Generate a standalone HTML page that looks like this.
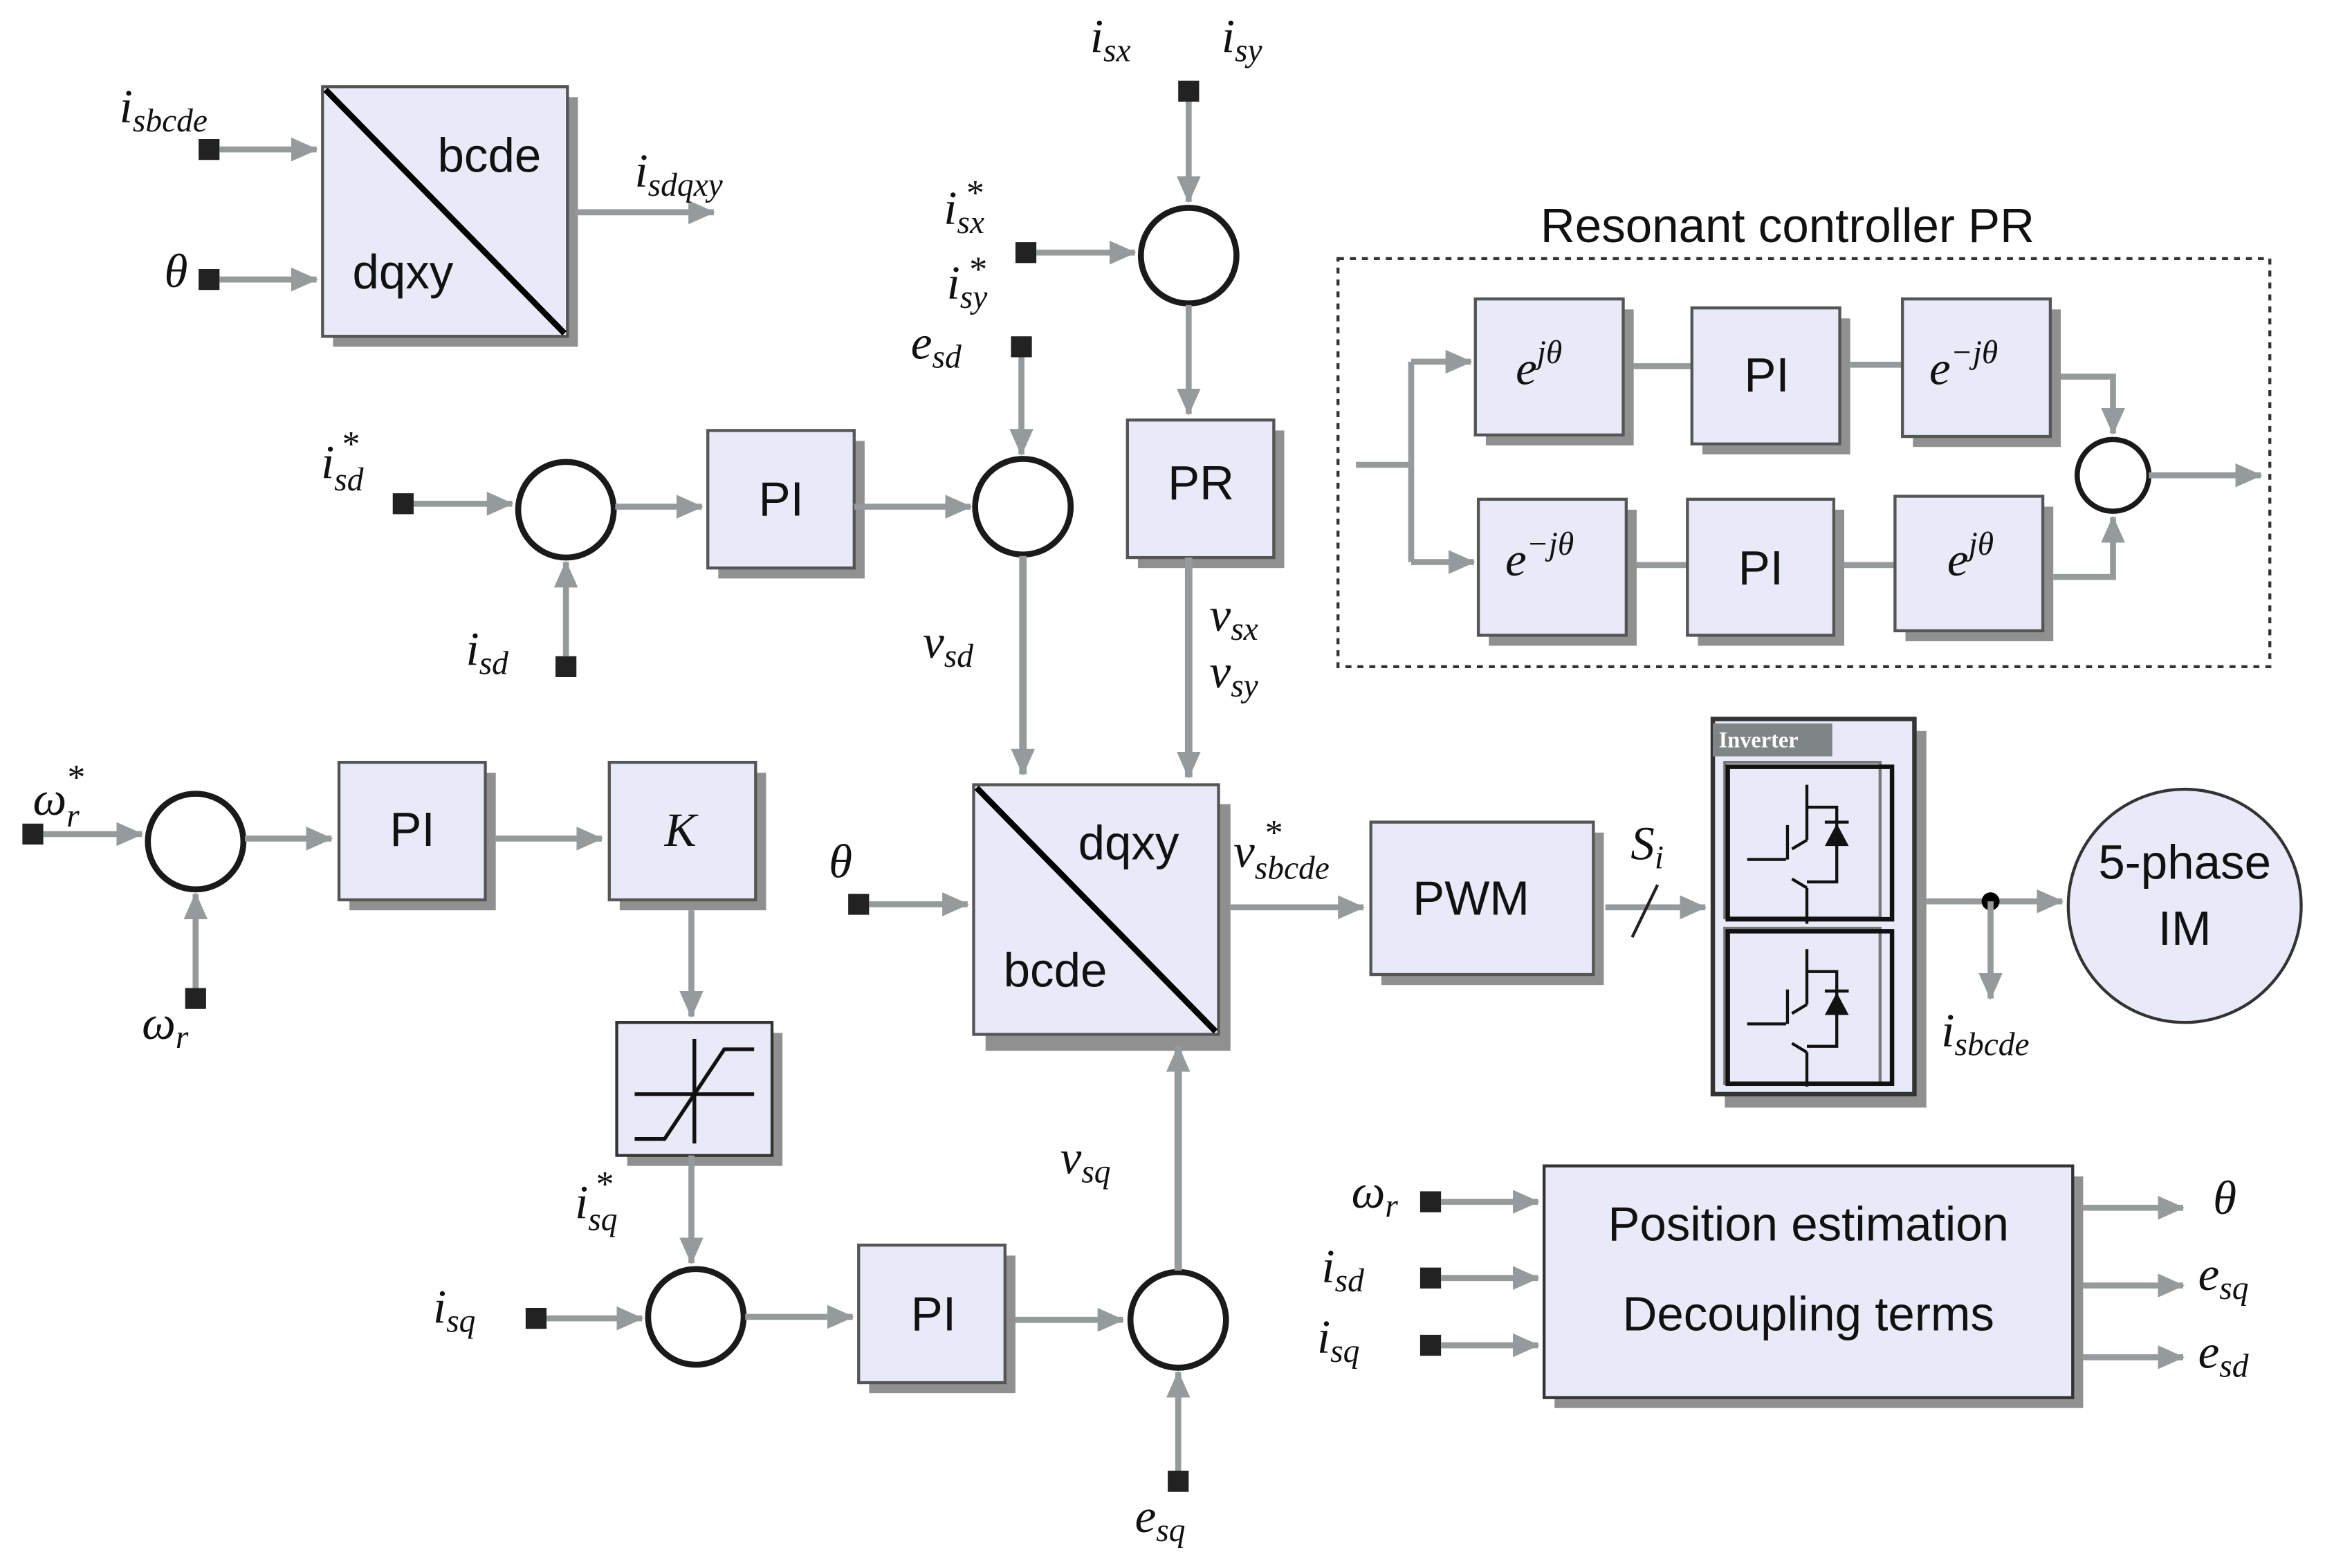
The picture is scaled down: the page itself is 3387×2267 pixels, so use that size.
<!DOCTYPE html>
<html><head><meta charset="utf-8"><style>
html,body{margin:0;padding:0;background:#fff}
svg{display:block}
.m{font-family:"Liberation Serif",serif;font-style:italic;font-size:32px;fill:#111}
.s{font-size:22px}
.t{font-family:"Liberation Sans",sans-serif;font-size:32px;fill:#111}
.ln{stroke:#959a9a;stroke-width:4;fill:none}
.bx{fill:#e8eaf8;stroke:#555;stroke-width:2}
.sh{fill:#909090}
.cir{fill:#fff;stroke:#1a1a1a;stroke-width:4}
</style></head><body>
<svg width="3387" height="2267" viewBox="0 0 1569 1049" preserveAspectRatio="none" xmlns="http://www.w3.org/2000/svg">
<defs>
<marker id="a" markerUnits="userSpaceOnUse" markerWidth="18" markerHeight="16" refX="17" refY="8" orient="auto"><path d="M0,0 L18,8 L0,16 Z" fill="#959a9a"/></marker>
</defs>
<g>
<rect class="sh" x="223" y="65" width="164" height="167"/>
<rect class="bx" x="216" y="58" width="164" height="167"/>
<line x1="218" y1="60" x2="378" y2="223" stroke="#000" stroke-width="4"/>
<text class="t" x="293" y="115">bcde</text><text class="t" x="236" y="193">dqxy</text>
<rect x="133" y="93" width="14" height="14" fill="#222"/><line class="ln" x1="147" y1="100" x2="212" y2="100" marker-end="url(#a)"/>
<rect x="133" y="180" width="14" height="14" fill="#222"/><line class="ln" x1="147" y1="187" x2="212" y2="187" marker-end="url(#a)"/>
<text class="m" x="80" y="82">i<tspan class="s" dy="6">sbcde</tspan></text>
<text class="m" x="110" y="192">θ</text>
<line class="ln" x1="385" y1="142" x2="478" y2="142" marker-end="url(#a)"/>
<text class="m" x="425" y="125">i<tspan class="s" dy="6">sdqxy</tspan></text>

<text class="m" x="215" y="320">i<tspan class="s" dy="8">sd</tspan></text><text class="m" x="228" y="305" style="font-size:24px">*</text>
<rect x="263" y="330" width="14" height="14" fill="#222"/>
<line class="ln" x1="277" y1="337" x2="343" y2="337" marker-end="url(#a)"/>
<circle class="cir" cx="379" cy="341" r="32"/>
<rect x="372" y="439" width="14" height="14" fill="#222"/>
<line class="ln" x1="379" y1="439" x2="379" y2="376" marker-end="url(#a)"/>
<text class="m" x="312" y="445">i<tspan class="s" dy="6">sd</tspan></text>
<line class="ln" x1="412" y1="339" x2="470" y2="339" marker-end="url(#a)"/>
<rect class="sh" x="481" y="295" width="98" height="92"/><rect class="bx" x="474" y="288" width="98" height="92"/>
<text class="t" x="508" y="345">PI</text>
<line class="ln" x1="572" y1="339" x2="650" y2="339" marker-end="url(#a)"/>
<circle class="cir" cx="685" cy="339" r="32"/>
<rect x="677" y="225" width="14" height="14" fill="#222"/>
<line class="ln" x1="684" y1="239" x2="684" y2="304" marker-end="url(#a)"/>
<text class="m" x="610" y="240">e<tspan class="s" dy="6">sd</tspan></text>
<line class="ln" x1="685" y1="372" x2="685" y2="518" marker-end="url(#a)" style="stroke-width:5"/>
<text class="m" x="618" y="440">v<tspan class="s" dy="6">sd</tspan></text>

<text class="m" x="730" y="35">i<tspan class="s" dy="6">sx</tspan></text>
<text class="m" x="818" y="35">i<tspan class="s" dy="6">sy</tspan></text>
<rect x="789" y="54" width="14" height="14" fill="#222"/>
<line class="ln" x1="796" y1="68" x2="796" y2="135" marker-end="url(#a)"/>
<circle class="cir" cx="796" cy="171" r="32"/>
<text class="m" x="632" y="150">i<tspan class="s" dy="6">sx</tspan></text><text class="m" x="646" y="137" style="font-size:24px">*</text>
<text class="m" x="634" y="200">i<tspan class="s" dy="6">sy</tspan></text><text class="m" x="648" y="188" style="font-size:24px">*</text>
<rect x="680" y="162" width="14" height="14" fill="#222"/>
<line class="ln" x1="694" y1="169" x2="760" y2="169" marker-end="url(#a)"/>
<line class="ln" x1="796" y1="204" x2="796" y2="277" marker-end="url(#a)"/>
<rect class="sh" x="762" y="288" width="98" height="92"/><rect class="bx" x="755" y="281" width="98" height="92"/>
<text class="t" x="782" y="334">PR</text>
<line class="ln" x1="796" y1="373" x2="796" y2="520" marker-end="url(#a)" style="stroke-width:5"/>
<text class="m" x="810" y="422">v<tspan class="s" dy="6">sx</tspan></text>
<text class="m" x="810" y="460">v<tspan class="s" dy="6">sy</tspan></text>

<rect class="sh" x="660" y="538" width="164" height="165"/>
<rect class="bx" x="652" y="525" width="164" height="167"/>
<line x1="654" y1="527" x2="814" y2="690" stroke="#000" stroke-width="4"/>
<text class="t" x="722" y="575">dqxy</text><text class="t" x="672" y="660">bcde</text>
<text class="m" x="555" y="587">θ</text>
<rect x="568" y="598" width="14" height="14" fill="#222"/>
<line class="ln" x1="582" y1="605" x2="648" y2="605" marker-end="url(#a)"/>
<line class="ln" x1="824" y1="607" x2="913" y2="607" marker-end="url(#a)"/>
<text class="m" x="826" y="580">v<tspan class="s" dy="8">sbcde</tspan></text><text class="m" x="846" y="565" style="font-size:24px">*</text>
<rect class="sh" x="925" y="557" width="149" height="102"/><rect class="bx" x="918" y="550" width="149" height="102"/>
<text class="t" x="946" y="612">PWM</text>
<line class="ln" x1="1075" y1="607" x2="1142" y2="607" marker-end="url(#a)"/>
<line x1="1093" y1="627" x2="1110" y2="592" stroke="#222" stroke-width="2"/>
<text class="m" x="1092" y="575">S<tspan class="s" dy="6">i</tspan></text>

<rect class="sh" x="1155" y="489" width="135" height="252"/>
<rect class="bx" x="1147" y="481" width="135" height="251" style="stroke:#333;stroke-width:3"/>
<rect x="1147" y="484" width="80" height="22" fill="#7f8485"/>
<text x="1151" y="500" style="font-family:'Liberation Serif',serif;font-weight:bold;font-size:15px;fill:#fff">Inverter</text>
<g fill="none" stroke="#111" stroke-width="2">
<rect x="1155" y="510" width="104" height="104" stroke="#777"/>
<rect x="1157" y="513" width="110" height="102" stroke-width="3"/>
<rect x="1155" y="621" width="104" height="104" stroke="#777"/>
<rect x="1157" y="623" width="110" height="102" stroke-width="3"/>
<path d="M1170,575 H1196 M1197,552 V575 M1200,568 L1210,562 M1200,588 L1210,594 M1210,525 V562 M1210,594 V618 M1210,540 H1230 V590 H1210"/>
<path d="M1170,685 H1196 M1197,662 V685 M1200,678 L1210,672 M1200,698 L1210,704 M1210,635 V672 M1210,704 V727 M1210,650 H1230 V700 H1210"/>
<path d="M1222,550 H1238 M1222,663 H1238"/>
</g>
<path d="M1222,566 L1238,566 L1230,551 Z M1222,679 L1238,679 L1230,664 Z" fill="#111"/>
<line class="ln" x1="1290" y1="603" x2="1381" y2="603" marker-end="url(#a)"/>
<circle cx="1333" cy="603" r="6" fill="#000"/>
<line class="ln" x1="1333" y1="603" x2="1333" y2="668" marker-end="url(#a)"/>
<text class="m" x="1300" y="700">i<tspan class="s" dy="6">sbcde</tspan></text>
<circle cx="1463" cy="606" r="78" fill="#e8eaf8" stroke="#333" stroke-width="2"/>
<text class="t" x="1463" y="588" text-anchor="middle">5-phase</text>
<text class="t" x="1463" y="632" text-anchor="middle">IM</text>

<text class="m" x="22" y="545">ω<tspan class="s" dy="8">r</tspan></text><text class="m" x="44" y="528" style="font-size:24px">*</text>
<rect x="15" y="551" width="14" height="14" fill="#222"/>
<line class="ln" x1="29" y1="558" x2="95" y2="558" marker-end="url(#a)"/>
<circle class="cir" cx="131" cy="563" r="32"/>
<rect x="124" y="661" width="14" height="14" fill="#222"/>
<line class="ln" x1="131" y1="661" x2="131" y2="598" marker-end="url(#a)"/>
<text class="m" x="95" y="695">ω<tspan class="s" dy="6">r</tspan></text>
<line class="ln" x1="164" y1="561" x2="222" y2="561" marker-end="url(#a)"/>
<rect class="sh" x="234" y="517" width="98" height="92"/><rect class="bx" x="227" y="510" width="98" height="92"/>
<text class="t" x="261" y="566">PI</text>
<line class="ln" x1="332" y1="561" x2="403" y2="561" marker-end="url(#a)"/>
<rect class="sh" x="415" y="517" width="98" height="92"/><rect class="bx" x="408" y="510" width="98" height="92"/>
<text class="m" x="445" y="566">K</text>
<line class="ln" x1="463" y1="609" x2="463" y2="680" marker-end="url(#a)"/>
<rect class="sh" x="420" y="691" width="104" height="89"/><rect class="bx" x="413" y="684" width="104" height="89" style="stroke:#333"/>
<path d="M425,732 H505 M465,695 V765 M425,762 H445 L485,702 H505" fill="none" stroke="#111" stroke-width="2.5"/>
<line class="ln" x1="463" y1="773" x2="463" y2="845" marker-end="url(#a)"/>
<text class="m" x="385" y="815">i<tspan class="s" dy="8">sq</tspan></text><text class="m" x="398" y="800" style="font-size:24px">*</text>
<text class="m" x="290" y="885">i<tspan class="s" dy="6">sq</tspan></text>
<rect x="352" y="875" width="14" height="14" fill="#222"/>
<line class="ln" x1="366" y1="882" x2="430" y2="882" marker-end="url(#a)"/>
<circle class="cir" cx="466" cy="881" r="32"/>
<line class="ln" x1="499" y1="881" x2="571" y2="881" marker-end="url(#a)"/>
<rect class="sh" x="582" y="840" width="98" height="92"/><rect class="bx" x="575" y="833" width="98" height="92"/>
<text class="t" x="610" y="890">PI</text>
<line class="ln" x1="680" y1="883" x2="752" y2="883" marker-end="url(#a)"/>
<circle class="cir" cx="789" cy="883" r="32"/>
<rect x="782" y="984" width="14" height="14" fill="#222"/>
<line class="ln" x1="789" y1="984" x2="789" y2="918" marker-end="url(#a)"/>
<text class="m" x="760" y="1025">e<tspan class="s" dy="6">sq</tspan></text>
<line class="ln" x1="789" y1="850" x2="789" y2="700" marker-end="url(#a)" style="stroke-width:5"/>
<text class="m" x="710" y="785">v<tspan class="s" dy="6">sq</tspan></text>

<text class="t" x="1197" y="162" text-anchor="middle">Resonant controller PR</text>
<rect x="896" y="173" width="624" height="273" fill="none" stroke="#333" stroke-width="2" stroke-dasharray="4,4"/>
<line class="ln" x1="908" y1="311" x2="945" y2="311"/>
<line class="ln" x1="945" y1="242" x2="945" y2="376"/>
<line class="ln" x1="945" y1="242" x2="985" y2="242" marker-end="url(#a)"/>
<line class="ln" x1="945" y1="376" x2="987" y2="376" marker-end="url(#a)"/>
<rect class="sh" x="995" y="207" width="99" height="91"/><rect class="bx" x="988" y="200" width="99" height="91"/>
<text class="m" x="1015" y="257">e<tspan class="s" dy="-14">jθ</tspan></text>
<line class="ln" x1="1094" y1="245" x2="1133" y2="245"/>
<rect class="sh" x="1140" y="213" width="99" height="91"/><rect class="bx" x="1133" y="206" width="99" height="91"/>
<text class="t" x="1168" y="262">PI</text>
<line class="ln" x1="1239" y1="244" x2="1274" y2="244"/>
<rect class="sh" x="1281" y="207" width="99" height="92"/><rect class="bx" x="1274" y="200" width="99" height="92"/>
<text class="m" x="1292" y="257">e<tspan class="s" dy="-14">−jθ</tspan></text>
<rect class="sh" x="997" y="341" width="99" height="91"/><rect class="bx" x="990" y="334" width="99" height="91"/>
<text class="m" x="1008" y="385">e<tspan class="s" dy="-14">−jθ</tspan></text>
<line class="ln" x1="1096" y1="378" x2="1130" y2="378"/>
<rect class="sh" x="1137" y="341" width="98" height="91"/><rect class="bx" x="1130" y="334" width="98" height="91"/>
<text class="t" x="1164" y="391">PI</text>
<line class="ln" x1="1235" y1="378" x2="1269" y2="378"/>
<rect class="sh" x="1276" y="339" width="99" height="90"/><rect class="bx" x="1269" y="332" width="99" height="90"/>
<text class="m" x="1304" y="385">e<tspan class="s" dy="-14">jθ</tspan></text>
<path class="ln" d="M1380,252 H1415 V290" marker-end="url(#a)"/>
<path class="ln" d="M1375,386 H1415 V346" marker-end="url(#a)"/>
<circle class="cir" cx="1415" cy="318" r="24" style="stroke-width:3.5"/>
<line class="ln" x1="1439" y1="318" x2="1514" y2="318" marker-end="url(#a)"/>

<rect class="sh" x="1041" y="787" width="354" height="155"/>
<rect class="bx" x="1034" y="780" width="354" height="155" style="stroke:#333"/>
<text class="t" x="1211" y="830" text-anchor="middle">Position estimation</text>
<text class="t" x="1211" y="890" text-anchor="middle">Decoupling terms</text>
<text class="m" x="905" y="808">ω<tspan class="s" dy="6">r</tspan></text>
<text class="m" x="885" y="858">i<tspan class="s" dy="6">sd</tspan></text>
<text class="m" x="882" y="905">i<tspan class="s" dy="6">sq</tspan></text>
<rect x="951" y="797" width="14" height="14" fill="#222"/><line class="ln" x1="965" y1="804" x2="1030" y2="804" marker-end="url(#a)"/>
<rect x="951" y="848" width="14" height="14" fill="#222"/><line class="ln" x1="965" y1="855" x2="1030" y2="855" marker-end="url(#a)"/>
<rect x="951" y="893" width="14" height="14" fill="#222"/><line class="ln" x1="965" y1="900" x2="1030" y2="900" marker-end="url(#a)"/>
<line class="ln" x1="1395" y1="808" x2="1462" y2="808" marker-end="url(#a)"/>
<line class="ln" x1="1395" y1="860" x2="1462" y2="860" marker-end="url(#a)"/>
<line class="ln" x1="1395" y1="908" x2="1462" y2="908" marker-end="url(#a)"/>
<text class="m" x="1482" y="812">θ</text>
<text class="m" x="1472" y="863">e<tspan class="s" dy="6">sq</tspan></text>
<text class="m" x="1472" y="915">e<tspan class="s" dy="6">sd</tspan></text>
</g>
</svg>
</body></html>
